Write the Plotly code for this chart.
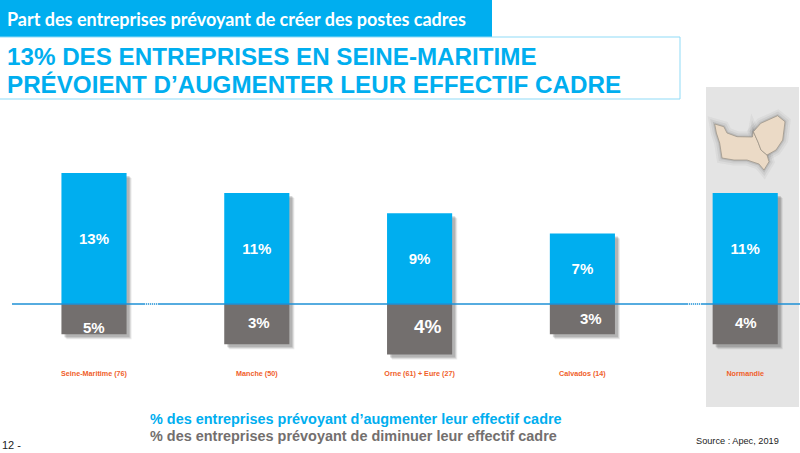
import plotly.graph_objects as go

categories = ["Seine-Maritime (76)", "Manche (50)", "Orne (61) + Eure (27)", "Calvados (14)", "Normandie"]
hausse = [13, 11, 9, 7, 11]
baisse_bars = [-3, -4, -5, -3, -4]
hausse_labels = ["13%", "11%", "9%", "7%", "11%"]
baisse_labels = ["5%", "3%", "4%", "3%", "4%"]
baisse_label_y = [-2.3, -1.8, -2.2, -1.4, -1.8]
baisse_label_dx = [0, 2, 8, 9, 1]
baisse_label_size = [15, 15, 19, 15, 15]

BLUE = "#00AEEF"
GREY = "#736F6E"
W, H = 800, 453
PX_CAT = 162.8
PX_VAL = 10.08
X0, Y0 = 94.0, 304.0


def xr(dx=0):
    return [(0 - X0 - dx) / PX_CAT, (W - X0 - dx) / PX_CAT]


def yr(dy=0):
    return [-(H - Y0 - dy) / PX_VAL, (Y0 + dy) / PX_VAL]


def px(x):
    return x / W


def py(y):
    return 1 - y / H


def overlay_axes(n, dx, dy):
    fig.update_layout({
        f"xaxis{n}": dict(domain=[0, 1], range=xr(dx), visible=False, type="category", overlaying="x",
                          categoryorder="array", categoryarray=categories, anchor=f"y{n}"),
        f"yaxis{n}": dict(domain=[0, 1], range=yr(dy), visible=False, anchor=f"x{n}", overlaying="y"),
    })


fig = go.Figure()
# base axes carry the category labels
fig.add_bar(x=categories, y=hausse, width=0.4, marker=dict(color="rgba(0,0,0,0)", line_width=0),
            hoverinfo="skip", showlegend=False)

shadow_layers = [(5, 5, 0.10), (4, 4, 0.14), (3, 3, 0.20)]
for i, (dx, dy, a) in enumerate(shadow_layers):
    n = i + 2
    for vals in (hausse, baisse_bars):
        fig.add_bar(x=categories, y=vals, xaxis=f"x{n}", yaxis=f"y{n}", width=0.4,
                    marker=dict(color=f"rgba(60,60,60,{a})", line_width=0),
                    hoverinfo="skip", showlegend=False)
    overlay_axes(n, dx, dy)

overlay_axes(5, 0, 0)
fig.add_bar(x=categories, y=hausse, xaxis="x5", yaxis="y5", width=0.4, marker=dict(color=BLUE, line_width=0),
            text=hausse_labels, textposition="inside", insidetextanchor="middle", textangle=0,
            textfont=dict(family="Liberation Sans", size=15, color="white", weight="bold"),
            showlegend=False, name="Hausse")
fig.add_bar(x=categories, y=baisse_bars, xaxis="x5", yaxis="y5", width=0.4, marker=dict(color=GREY, line_width=0),
            showlegend=False, name="Baisse")

for c, lab, y, dx, s in zip(categories, baisse_labels, baisse_label_y, baisse_label_dx, baisse_label_size):
    fig.add_annotation(x=c, y=y, xref="x5", yref="y5", text=f"<b>{lab}</b>", showarrow=False, xshift=dx,
                       font=dict(family="Liberation Sans", size=s, color="white"))


def note(x, y, text, size, color, family="Liberation Sans", anchor="left"):
    fig.add_annotation(xref="paper", yref="paper", x=px(x), y=py(y), text=text, showarrow=False,
                       xanchor=anchor, yanchor="middle", align="left",
                       font=dict(family=family, size=size, color=color))


note(5, 19, "<b>Part des entreprises prévoyant de créer des postes cadres</b>", 18, "white", "Lato")
note(5, 57, "<b>13% DES ENTREPRISES EN SEINE-MARITIME</b>", 24.2, BLUE)
note(5, 85, "<b>PRÉVOIENT D’AUGMENTER LEUR EFFECTIF CADRE</b>", 24.2, BLUE)
note(148, 419, "<b>% des entreprises prévoyant d’augmenter leur effectif cadre</b>", 14.45, BLUE)
note(148, 436, "<b>% des entreprises prévoyant de diminuer leur effectif cadre</b>", 14.45, GREY)
note(0, 445, "12 -", 11, "#222222")
note(694, 441, "Source : Apec, 2019", 9.2, "#222222")


def path(points):
    return "M" + "L".join(f"{px(x)},{py(y)}" for x, y in points) + "Z"


west = [(714.7, 124), (723.8, 126.7), (727, 133), (737, 136.7), (752.4, 137), (753.4, 131.7),
        (758, 142), (761, 150), (767, 155), (769, 161.7), (764, 170), (759, 164), (747, 160),
        (734, 160), (722, 158), (719.7, 143), (716.4, 133)]
east = [(753.4, 131.7), (760.8, 123.3), (777.6, 115.7), (785, 121.7), (782.7, 140), (776, 150),
        (767, 155), (761, 150), (758, 142)]

shapes = [
    dict(type="rect", xref="paper", yref="paper", x0=px(0), x1=px(492), y0=py(0), y1=py(37),
         fillcolor=BLUE, line_width=0, layer="below"),
    dict(type="rect", xref="paper", yref="paper", x0=px(-2), x1=px(680), y0=py(37), y1=py(99),
         fillcolor="white", line=dict(color="#8FDBF7", width=1), layer="below"),
    dict(type="rect", xref="paper", yref="paper", x0=px(706), x1=px(799), y0=py(87), y1=py(407),
         fillcolor="#E4E4E4", line_width=0, layer="below"),
]
for w, a in ((11, 0.05), (7, 0.07), (3, 0.12)):
    for poly in (west, east):
        shapes.append(dict(type="path", xref="paper", yref="paper", path=path(poly),
                           fillcolor="rgba(0,0,0,0)", line=dict(color=f"rgba(50,50,50,{a})", width=w),
                           layer="below"))
for poly in (west, east):
    shapes.append(dict(type="path", xref="paper", yref="paper", path=path(poly), fillcolor="#EBDAC6",
                       line=dict(color="#9A9084", width=0.7), layer="below"))
shapes.append(dict(type="line", xref="paper", yref="y", x0=px(12), x1=1, y0=0, y1=0,
                   line=dict(color="#1E90D6", width=1.3), layer="above"))
for a, b in ((145, 158), (688, 702)):
    shapes.append(dict(type="line", xref="paper", yref="y", x0=px(a), x1=px(b), y0=0, y1=0,
                       line=dict(color="white", width=1.3, dash="1px 1px"), layer="above"))

fig.update_layout(
    width=W, height=H, margin=dict(l=0, r=0, t=0, b=0, pad=0), barmode="overlay",
    paper_bgcolor="white", plot_bgcolor="rgba(0,0,0,0)", shapes=shapes,
    xaxis=dict(domain=[0, 1], range=xr(), type="category", categoryorder="array", categoryarray=categories,
               anchor="free", position=py(368), showline=False, showgrid=False, ticks="", zeroline=False,
               tickfont=dict(family="Liberation Sans", size=7.2, color="#F0602A", weight="bold")),
    yaxis=dict(domain=[0, 1], range=yr(), visible=False),
)
fig.write_html("out.html", config={"displayModeBar": False},
               post_script="document.body.style.margin='0';document.documentElement.style.overflow='hidden';")
